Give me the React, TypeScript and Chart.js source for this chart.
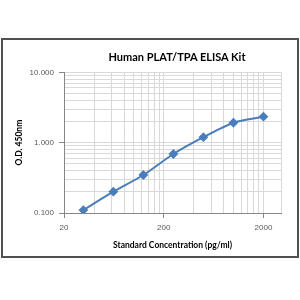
import { useEffect, useRef } from "react";
import { Chart, registerables } from "chart.js";
Chart.register(...registerables);

const TITLE = "Human PLAT/TPA ELISA Kit";
const X_TITLE = "Standard Concentration (pg/ml)";
const Y_TITLE = "O.D. 450nm";

const concentrations = [31.25, 62.5, 125, 250, 500, 1000, 2000];
const odValues = [0.11, 0.201, 0.347, 0.69, 1.195, 1.92, 2.34];

const xGridValues = [20, 40, 60, 80, 100, 120, 140, 160, 180, 200, 400, 600, 800, 1000, 1200, 1400, 1600, 1800, 2000, 3000];
const xLabelValues = [20, 200, 2000];
const yGridValues = [0.1, 0.2, 0.3, 0.4, 0.5, 0.6, 0.7, 0.8, 0.9, 1, 2, 3, 4, 5, 6, 7, 8, 9, 10];
const yLabelValues = [0.1, 1, 10];

const BLUE = "#4A7EBB";
const GRID = "#d9d9d9";
const AXIS = "#868686";

export default function App() {
  const ref = useRef<HTMLCanvasElement | null>(null);
  useEffect(() => {
    if (!ref.current) return;
    const chart = new Chart(ref.current, {
      type: "line",
      data: {
        datasets: [
          {
            data: concentrations.map((c, i) => ({ x: c, y: odValues[i] })),
            borderColor: BLUE,
            backgroundColor: BLUE,
            borderWidth: 2,
            pointStyle: "rectRot",
            pointRadius: 3.5,
            tension: 0.25,
          },
        ],
      },
      options: {
        responsive: false,
        animation: false,
        devicePixelRatio: 1,
        layout: { padding: { top: 72.3, left: 7, right: 19, bottom: 48 } },
        plugins: {
          legend: { display: false },
          tooltip: { enabled: false },
          title: { display: false },
        },
        scales: {
          x: {
            type: "logarithmic",
            min: 20,
            max: 3000,
            afterBuildTicks: (scale: any) => {
              scale.ticks = xGridValues.map((v) => ({ value: v }));
            },
            afterFit: (scale: any) => {
              scale.height = 39;
            },
            ticks: {
              autoSkip: false,
              maxRotation: 0,
              padding: 5,
              color: "#595959",
              font: { family: "Liberation Sans", size: 8 },
              callback: (v: any) => (xLabelValues.includes(v) ? String(v) : ""),
            },
            grid: {
              color: GRID,
              tickLength: 5,
              tickColor: (ctx: any) => (ctx.tick && xLabelValues.includes(ctx.tick.value) ? AXIS : "rgba(0,0,0,0)"),
            },
            border: { color: AXIS },
            title: {
              display: true,
              text: X_TITLE,
              color: "#000",
              font: { family: "Lato", size: 8.5, weight: "bold" },
              padding: { top: 0, bottom: 2 },
            },
          },
          y: {
            type: "logarithmic",
            min: 0.1,
            max: 10,
            afterBuildTicks: (scale: any) => {
              scale.ticks = yGridValues.map((v) => ({ value: v }));
            },
            afterFit: (scale: any) => {
              scale.width = 57;
            },
            ticks: {
              autoSkip: false,
              padding: 5,
              color: "#595959",
              font: { family: "Liberation Sans", size: 8 },
              callback: (v: any) => (yLabelValues.includes(v) ? Number(v).toFixed(3) : ""),
            },
            grid: {
              color: GRID,
              tickLength: 5,
              tickColor: (ctx: any) => (ctx.tick && yLabelValues.includes(ctx.tick.value) ? AXIS : "rgba(0,0,0,0)"),
            },
            border: { color: AXIS },
            title: {
              display: true,
              text: Y_TITLE,
              color: "#000",
              font: { family: "Lato", size: 8.5, weight: "bold" },
              padding: { top: 7, bottom: 0 },
            },
          },
        },
      },
    } as any);
    return () => chart.destroy();
  }, []);

  return (
    <div style={{ position: "absolute", left: 0, top: 0, width: 300, height: 300, background: "#fff" }}>
      <canvas ref={ref} width={300} height={300} style={{ position: "absolute", left: 0, top: 0 }} />
      <div
        style={{
          position: "absolute",
          left: 1,
          top: 38,
          width: 298,
          height: 220,
          boxSizing: "border-box",
          border: "2px solid #505050",
          pointerEvents: "none",
        }}
      />
      <div
        style={{
          position: "absolute",
          left: 177,
          top: 56,
          transform: "translate(-50%, -50%)",
          whiteSpace: "nowrap",
          fontFamily: "Lato",
          fontWeight: "bold",
          fontSize: 11,
          lineHeight: "13px",
          color: "#000",
        }}
      >
        {TITLE}
      </div>
    </div>
  );
}
